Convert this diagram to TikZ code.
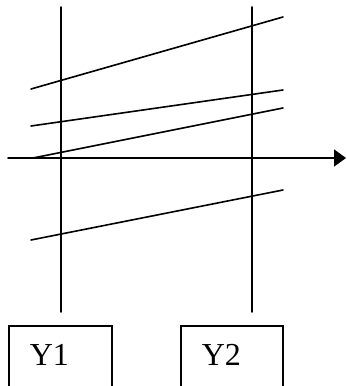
\documentclass[tikz,border=0pt]{standalone}
\usepackage{fontspec}
\setmainfont{Liberation Serif}
\usetikzlibrary{arrows.meta, positioning}

\begin{document}
\begin{tikzpicture}[
    x=1pt, y=-1pt,
    thinLine/.style={
        line width=1.6pt,
        line cap=round
    },
    boxY/.style={
        rectangle,
        draw,
        line width=1.6pt,
        anchor=north west,
        inner xsep=21pt,
        inner ysep=0pt,
        text width=61pt,
        text height=40pt,
        text depth=40pt,
        align=left,
        font=\fontsize{32}{36}\selectfont
    }
]

\clip (0,0) rectangle (347,386);

% Verticales
\draw[thinLine] (61,7) -- (61,312);
\draw[thinLine] (252,7) -- (252,312);

% Axe
\draw[thinLine, -{Triangle[length=12pt,width=17pt]}] (8,158) -- (346,158);

% Droites
\draw[thinLine] (31,89) -- (283,17);
\draw[thinLine] (31,126) -- (283,90);
\draw[thinLine] (33,158) -- (283,108);
\draw[thinLine] (31,240) -- (283,190);

% Boites
\node[boxY] (y1) at (8,325) {Y1};
\node[boxY, text width=60pt] (y2) at (180,325) {Y2};

\end{tikzpicture}
\end{document}
